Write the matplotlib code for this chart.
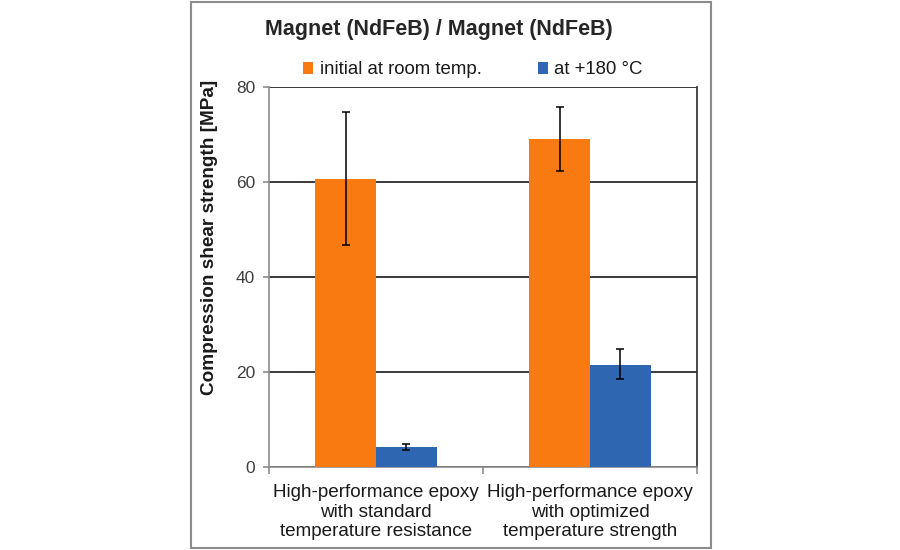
import matplotlib
matplotlib.use("Agg")
import matplotlib.pyplot as plt
from matplotlib.patches import Rectangle
import numpy as np

plt.rcParams['font.family'] = ['Liberation Sans', 'DejaVu Sans']

categories = ["High-performance epoxy\nwith standard\ntemperature resistance",
              "High-performance epoxy\nwith optimized\ntemperature strength"]
series_names = ["initial at room temp.", "at +180 °C"]
initial_vals = [60.6, 69.0]
initial_err_lo = [13.9, 6.7]
initial_err_hi = [14.1, 6.8]
hot_vals = [4.2, 21.5]
hot_err_lo = [0.6, 3.0]
hot_err_hi = [0.6, 3.3]
yticks = [0, 20, 40, 60, 80]

orange = '#FA7A12'
blue = '#2F66B1'

fig = plt.figure(figsize=(9, 5.5), dpi=100)
# outer frame
fig.patches.append(Rectangle((191/900, 2/550), 520/900, 546/550, transform=fig.transFigure,
                             fill=False, edgecolor='#8c8c8c', linewidth=1.5))

ax = fig.add_axes([269/900, 1-467/550, 428/900, 380/550])
x = np.arange(len(categories))
w = 0.283
ekw = dict(ecolor='black', elinewidth=1.1, capsize=2.8, capthick=1.1, zorder=4)
ax.bar(x - w/2, initial_vals, w, color=orange, label=series_names[0], zorder=3,
       yerr=[initial_err_lo, initial_err_hi], error_kw=ekw)
ax.bar(x + w/2, hot_vals, w, color=blue, label=series_names[1], zorder=3,
       yerr=[hot_err_lo, hot_err_hi], error_kw=ekw)

ax.set_xlim(-0.5, 1.5)
ax.set_ylim(0, 80)
ax.set_yticks(yticks)
ax.yaxis.grid(True, color='#3a3a3a', linewidth=1.4, zorder=0)
ax.set_axisbelow(True)
for s in ['left', 'bottom']:
    ax.spines[s].set_color('#8c8c8c')
    ax.spines[s].set_linewidth(1.2)
ax.spines['right'].set_color('#3a3a3a')
ax.spines['right'].set_linewidth(1.3)
ax.spines['top'].set_visible(False)

ax.set_xticks(x)
ax.set_xticklabels(categories, fontsize=13.6, color='#1a1a1a', linespacing=1.22)
ax.tick_params(axis='x', length=0, pad=12)
ax.set_xticks([-0.5, 0.5, 1.5], minor=True)
ax.tick_params(axis='x', which='minor', length=5, color='#8c8c8c', width=1.2)
ax.tick_params(axis='y', length=4, color='#8c8c8c', width=1.2, labelsize=12.5, labelcolor='#404040', pad=6)

fig.text(209/900, 1-237.5/550, "Compression shear strength [MPa]", rotation=90, ha='center', va='center',
         fontsize=13.7, fontweight='bold', color='#1a1a1a')

fig.text(439/900, 1-30/550, "Magnet (NdFeB) / Magnet (NdFeB)", ha='center', va='center',
         fontsize=15.5, fontweight='bold', color='#262626')

leg = fig.legend(loc='center', bbox_to_anchor=(473/900, 1-70/550), ncol=2, frameon=False,
                 fontsize=13.4, handlelength=0.55, handleheight=0.55, handletextpad=0.35,
                 columnspacing=3.0, labelcolor='#1a1a1a')

fig.savefig("out.png", dpi=100, facecolor='white')
